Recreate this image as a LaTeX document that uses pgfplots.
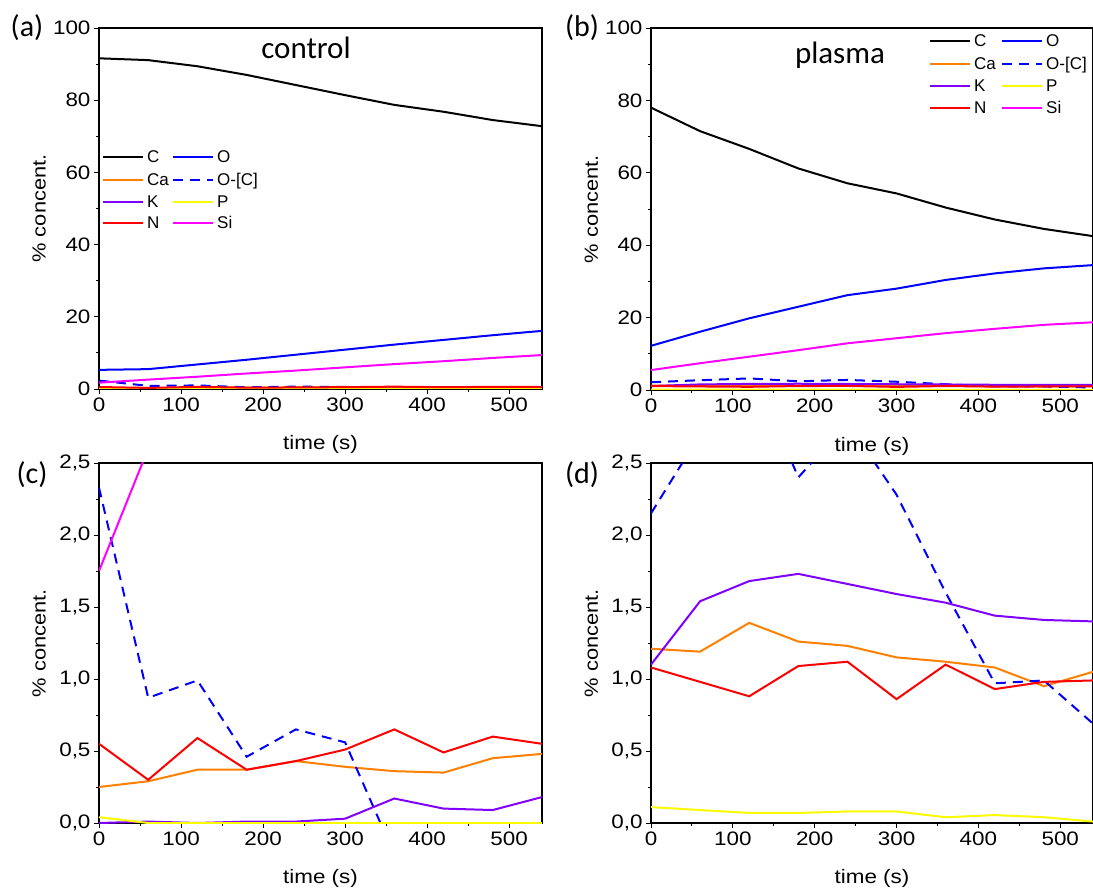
\documentclass[border=0pt]{standalone}
\usepackage{fontspec}
\setmainfont{Liberation Sans}
\newfontfamily\tickfont{Liberation Sans}[FakeStretch=1.15]
\newfontfamily\calfont{Carlito}
\usepackage{pgfplots}
\pgfplotsset{compat=1.18}
\usepackage{pgfplotstable}

\definecolor{cO}{RGB}{0,0,255}
\definecolor{cCa}{RGB}{255,128,0}
\definecolor{cK}{RGB}{128,0,255}
\definecolor{cP}{RGB}{250,250,0}
\definecolor{cN}{RGB}{255,0,0}
\definecolor{cSi}{RGB}{255,0,255}

\pgfplotstableread{
t   C     O     Ca    OC    K     P     N     Si
0   91.6  5.3   0.25  2.33  0.00  0.04  0.55  1.75
60  91.1  5.5   0.29  0.87  0.01  0.00  0.30  2.6
120 89.4  6.8   0.37  0.99  0.00  0.00  0.59  3.4
180 87.0  8.1   0.37  0.46  0.01  0.00  0.37  4.3
240 84.2  9.5   0.43  0.65  0.01  0.00  0.43  5.1
300 81.4  10.9  0.39  0.56  0.03  0.00  0.51  6.0
360 78.7  12.3  0.36  -0.22 0.17  0.00  0.65  6.9
420 76.8  13.6  0.35  nan   0.10  0.00  0.49  7.7
480 74.5  14.9  0.45  nan   0.09  0.00  0.60  8.6
540 72.8  16.1  0.48  nan   0.18  0.00  0.55  9.4
}\control

\pgfplotstableread{
t   C     O     Ca    OC    K     P     N     Si
0   78.0  12.2  1.21  2.15  1.10  0.11  1.08  5.5
60  71.5  16.1  1.19  2.70  1.54  0.09  0.98  7.4
120 66.6  19.8  1.39  3.20  1.68  0.07  0.88  9.2
180 61.2  23.0  1.26  2.40  1.73  0.07  1.09  11.0
240 57.1  26.2  1.23  2.78  1.66  0.08  1.12  12.9
300 54.3  28.0  1.15  2.28  1.59  0.08  0.86  14.3
360 50.4  30.4  1.12  1.60  1.53  0.04  1.10  15.7
420 47.1  32.2  1.08  0.97  1.44  0.055 0.93  16.9
480 44.5  33.6  0.95  0.99  1.41  0.04  0.98  18.0
540 42.5  34.5  1.05  0.69  1.40  0.01  0.99  18.7
}\plasma

\pgfplotsset{
  panel/.style={
    scale only axis,
    xmin=0, xmax=540,
    xtick={0,100,...,500}, minor x tick num=1,
    tick align=outside, xtick pos=left, ytick pos=left,
    major tick length=5pt, minor tick length=3pt,
    every tick/.style={black, line width=0.9pt},
    axis line style={line width=1.1pt},
    tick label style={font=\tickfont\fontsize{19.5}{22}\selectfont},
    /pgf/number format/assume math mode=true,
    xlabel={time (s)}, ylabel={\% concent.},
    xlabel style={font=\tickfont\fontsize{19.5}{22}\selectfont, at={(axis description cs:0.5,-0.155)}, anchor=center},
    ylabel style={font=\tickfont\fontsize{19}{22}\selectfont, at={(axis description cs:-0.135,0.5)}, anchor=center},
    every axis plot/.append style={line width=2pt},
  },
  big/.style={ymin=0, ymax=100, ytick={0,20,...,100}, minor y tick num=1},
  small/.style={ymin=0, ymax=2.5, ytick={0,0.5,...,2.5}, minor y tick num=1,
    yticklabel style={/pgf/number format/.cd, fixed, fixed zerofill, precision=1, use comma}},
}
\tikzset{dsh/.style={cO, dash pattern=on 10pt off 7pt}}

\newcommand{\allplots}[1]{%
  \addplot[black] table[x=t,y=C]{#1};
  \addplot[cO] table[x=t,y=O]{#1};
  \addplot[cCa] table[x=t,y=Ca]{#1};
  \addplot[dsh] table[x=t,y=OC]{#1};
  \addplot[cK] table[x=t,y=K]{#1};
  \addplot[cP] table[x=t,y=P]{#1};
  \addplot[cN] table[x=t,y=N]{#1};
  \addplot[cSi] table[x=t,y=Si]{#1};
}

% legend: #1 = x of first line start, #2 = x of second column line start,
% #3..#6 = y of rows (pt)
\newcommand{\leg}[6]{%
  \foreach \st/\lab/\yy/\col in {black/C/#3/1, cO/O/#3/2, cCa/Ca/#4/1, dsh/O-[C]/#4/2, cK/K/#5/1, cP/P/#5/2, cN/N/#6/1, cSi/Si/#6/2}{%
    \ifnum\col=1 \def\xx{#1}\else\def\xx{#2}\fi
    \draw[line width=2pt, \st] (\xx pt,\yy pt) -- ++(40pt,0pt);
    \node[anchor=base west, inner sep=0pt, font=\fontsize{17}{19}\selectfont] at (\xx pt+44pt,\yy pt-6pt) {\lab};
  }%
}

\begin{document}
\begin{tikzpicture}
\useasboundingbox (0,0) rectangle (1093pt,892pt);

% (a)
\begin{axis}[panel, big, at={(99pt,503pt)}, anchor=south west, width=443pt, height=361pt]
\allplots{\control}
\end{axis}

% (b)
\begin{axis}[panel, big, at={(651pt,502pt)}, anchor=south west, width=442pt, height=362pt]
\allplots{\plasma}
\end{axis}

% (c)
\begin{axis}[panel, small, at={(99pt,69pt)}, anchor=south west, width=443pt, height=360pt]
\allplots{\control}
\end{axis}

% (d)
\begin{axis}[panel, small, at={(651pt,69pt)}, anchor=south west, width=442pt, height=360pt]
\allplots{\plasma}
\end{axis}

\leg{103}{173}{735}{712}{690}{669}
\leg{930}{1002}{851}{828}{806}{784}

\node[font=\calfont\fontsize{30}{34}\selectfont] at (27pt,864.5pt) {(a)};
\node[font=\calfont\fontsize{30}{34}\selectfont] at (582pt,864.5pt) {(b)};
\node[font=\calfont\fontsize{30}{34}\selectfont] at (32pt,417pt) {(c)};
\node[font=\calfont\fontsize{30}{34}\selectfont] at (582pt,417pt) {(d)};
\node[anchor=base, font=\calfont\fontsize{31}{36}\selectfont] at (306pt,833.7pt) {control};
\node[anchor=base, font=\calfont\fontsize{31}{36}\selectfont] at (840pt,828.7pt) {plasma};
\end{tikzpicture}
\end{document}
